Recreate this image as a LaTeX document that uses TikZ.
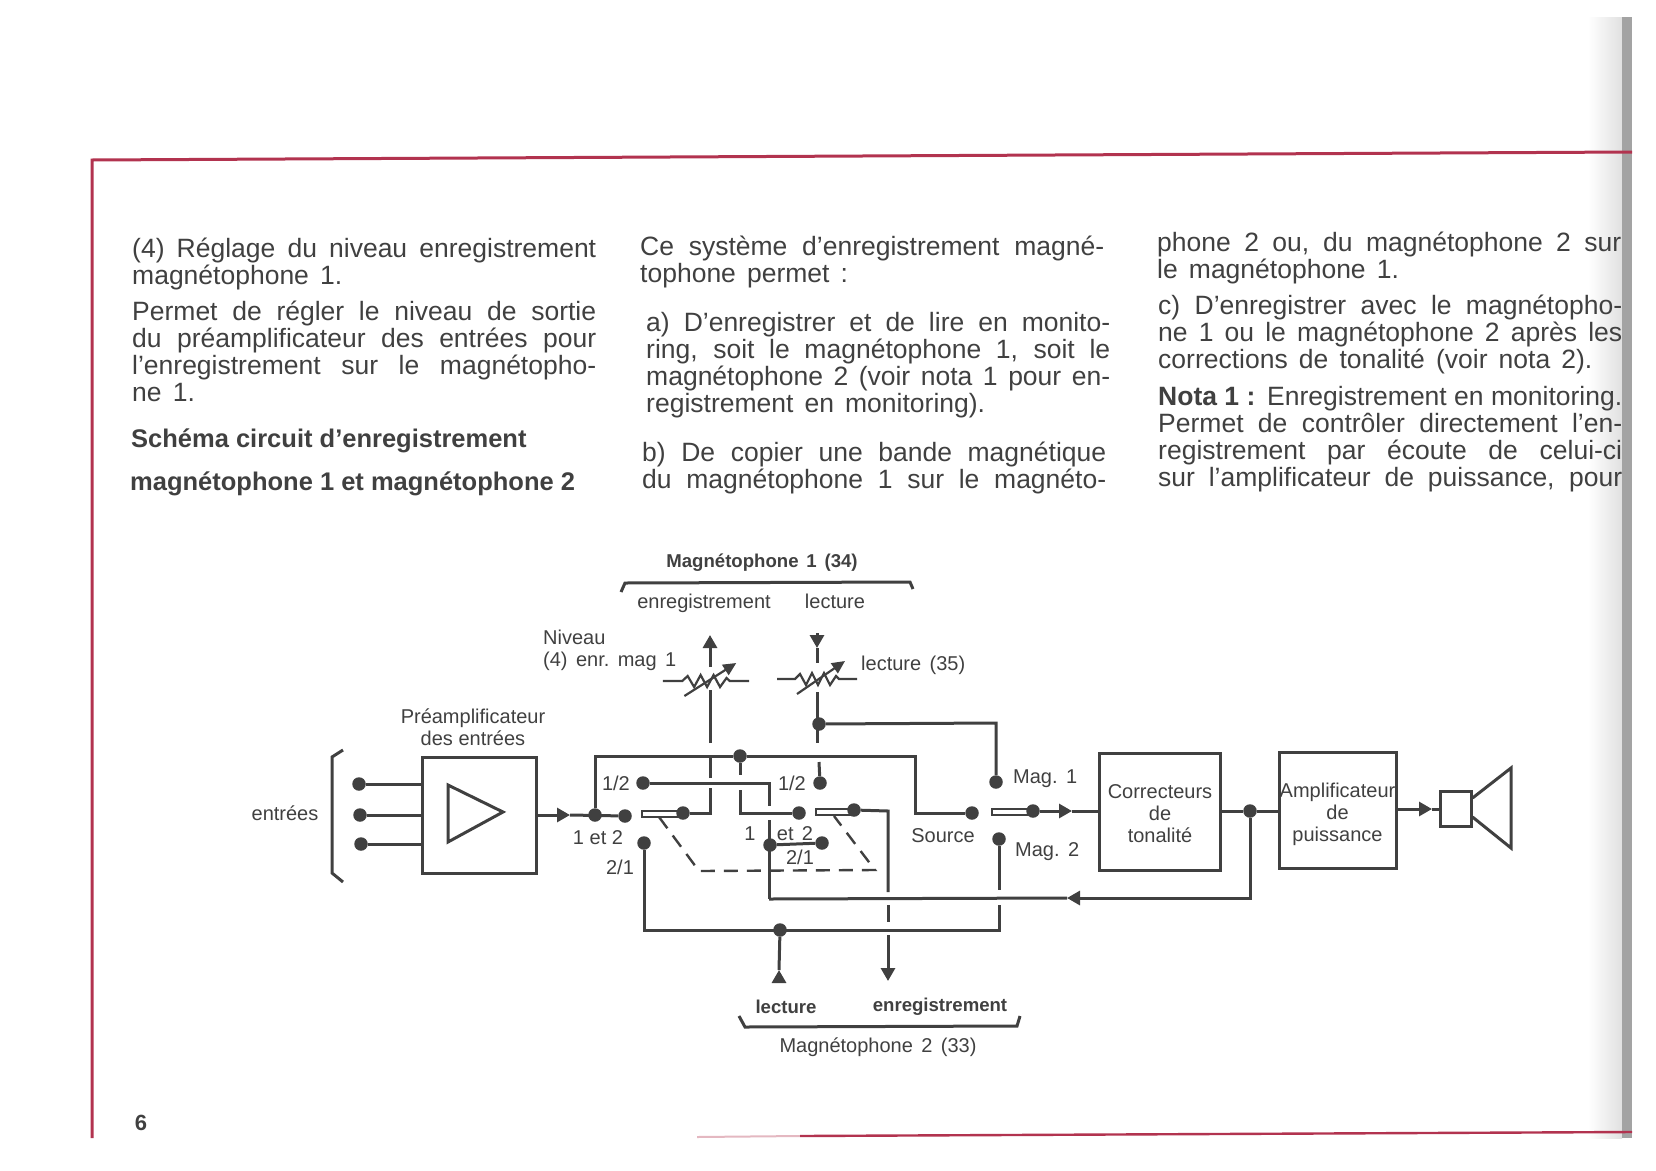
\documentclass[tikz,border=0pt]{standalone}
\usepackage{fontspec}
\setmainfont{Liberation Sans}
\usepackage{xcolor}
\usetikzlibrary{arrows.meta,positioning}
\definecolor{trait}{HTML}{404040}
\definecolor{rouge}{HTML}{B2334F}
\newcommand{\blanc}{\hspace{.42em}}

\begin{document}
\begin{tikzpicture}[
    x=1pt, y=-1pt,
    fil/.style={draw=trait, line width=3pt, line join=miter},
    fleche/.style={draw=trait, line width=3pt, -{Triangle[length=13pt,width=14pt]}},
    tirets/.style={draw=trait, line width=2.4pt, dash pattern=on 14pt off 9pt},
    bloc/.style={rectangle, draw=trait, line width=3pt, inner sep=0pt, align=center, text=trait, font=\fontsize{20}{22}\selectfont},
    borne/.style={circle, fill=trait, inner sep=0pt, minimum size=13.5pt},
    lame/.style={rectangle, draw=trait, fill=white, line width=2pt, inner sep=0pt, minimum height=6pt},
    etiq/.style={inner sep=0pt, align=center, text=trait, font=\fontsize{20}{22}\selectfont},
    gras/.style={inner sep=0pt, align=center, text=trait, font=\fontsize{18.6}{22}\selectfont\bfseries},
    para/.style={anchor=north west, inner sep=0pt, text width=464pt, align=justify, text=trait, font=\fontsize{26.5}{27}\selectfont,
        execute at begin node={\spaceskip=.42em plus 1em minus .16em\tolerance=9999}},
    titre/.style={anchor=west, inner sep=0pt, text=trait, font=\fontsize{25.5}{27}\selectfont\bfseries},
    pot/.pic={
        \draw[draw=trait, line width=2.2pt] (-40,0) -- (-22,0) -- (-17,-5) -- (-11,6) -- (-5,-6) -- (1,6) -- (7,-6) -- (13,6) -- (19,-3) -- (22,0) -- (40,0);
        \draw[draw=trait, line width=2.2pt, -{Triangle[length=13pt,width=12pt]}] (-20,15) -- (28,-18);
    }
    ]

    % Page : bord de reliure et cadre rouge
    \shade[left color=white, right color=black!12] (1588,17) rectangle (1622,1138);
    \fill[black!36] (1622,17) rectangle (1632,1138);
    \useasboundingbox (0,0) rectangle (1656,1170);
    \draw[draw=rouge, line width=3pt] (1632,152) -- (92,160) -- (92,1138);
    \draw[draw=rouge!35, line width=2pt] (697,1137) -- (800,1136);
    \draw[draw=rouge, line width=2.4pt] (800,1136) -- (1632,1132);

    % Colonne 1
    \node[para] (reglage) at (132,238) {(4) Réglage du niveau enregistrement\linebreak magnétophone 1.};
    \node[para] (permet) at (132,301) {Permet de régler le niveau de sortie\linebreak du préamplificateur des entrées pour\linebreak l'enregistrement sur le magnétopho-\linebreak ne 1.};
    \node[titre] (schema) at (131,441) {Schéma circuit d'enregistrement};
    \node[titre] (schemb) at (130,484) {magnétophone 1 et magnétophone 2};

    % Colonne 2
    \node[para] (systeme) at (640,236) {Ce système d'enregistrement magné-\linebreak tophone permet :};
    \node[para] (casa) at (646,312) {a) D'enregistrer et de lire en monito-\linebreak ring, soit le magnétophone 1, soit le\linebreak magnétophone 2 (voir nota 1 pour en-\linebreak registrement en monitoring).};
    \node[para] (casb) at (642,442) {b) De copier une bande magnétique\linebreak \makebox[464pt][s]{du magnétophone 1 sur le magnéto-}};

    % Colonne 3
    \node[para] (suite) at (1157,232) {phone 2 ou, du magnétophone 2 sur\linebreak le magnétophone 1.};
    \node[para] (casc) at (1158,295) {c) D'enregistrer avec le magnétopho-\linebreak ne 1 ou le magnétophone 2 après les\linebreak corrections de tonalité (voir nota 2).};
    \node[para] (nota) at (1158,386) {\textbf{Nota 1 :} Enregistrement en monitoring.\linebreak Permet de contrôler directement l'en-\linebreak registrement par écoute de celui-ci\linebreak \makebox[464pt][s]{sur l'amplificateur de puissance, pour}};

    % Numero de page
    \node[gras, font=\fontsize{22}{24}\selectfont\bfseries] (page) at (141,1123) {6};

    % Blocs
    \node[bloc, minimum width=114pt, minimum height=116pt] (preamp) at (479,815) {};
    \node[bloc, minimum width=121pt, minimum height=117pt] (correct) at (1160,811.5) {\rule{0pt}{19pt}Correcteurs\\de\\tonalité};
    \node[bloc, minimum width=117pt, minimum height=116pt] (ampli) at (1337.5,810) {\rule{0pt}{24pt}Amplificateur\\de\\puissance};
    \node[bloc, minimum width=31pt, minimum height=35pt] (hp) at (1455.5,808.5) {};

    % Bornes
    \node[borne] (e1) at (359,784) {};
    \node[borne] (e2) at (360,815) {};
    \node[borne] (e3) at (361,844) {};
    \node[borne] (jonc) at (595,815) {};
    \node[borne] (c12) at (625,816) {};
    \node[borne] (a12) at (643,783) {};
    \node[borne] (a21) at (644,843) {};
    \node[lame, minimum width=38pt] (lame1) at (661,814) {};
    \node[borne] (pivot1) at (683,813) {};
    \node[borne] (rail) at (740,756) {};
    \node[borne] (b12) at (820,783) {};
    \node[borne] (c1) at (799,813) {};
    \node[borne] (d1) at (770,845) {};
    \node[borne] (d2) at (822,843) {};
    \node[lame, minimum width=36pt] (lame2) at (834,811.5) {};
    \node[borne] (pivot2) at (854,810) {};
    \node[borne] (lec) at (819,724) {};
    \node[borne] (src) at (972,813) {};
    \node[borne] (mag1) at (996,782) {};
    \node[borne] (mag2) at (999,839) {};
    \node[lame, minimum width=38pt] (lame3) at (1011,812) {};
    \node[borne] (pivot3) at (1033,811) {};
    \node[borne] (sortie) at (1250,811) {};
    \node[borne] (retour) at (780,930) {};

    % Potentiometres
    \pic[xscale=1.08] at (706,681) {pot};
    \pic at (817,679) {pot};

    % Points de passage
    \coordinate (fp) at (570,815);
    \coordinate (coude1) at (915,756);
    \coordinate (h1) at (710,690);
    \coordinate (h2) at (710,743);
    \coordinate (h3) at (710,757);
    \coordinate (h4) at (710,778);
    \coordinate (h5) at (710,788);
    \coordinate (h6) at (710,813);
    \coordinate (p1) at (710,667);
    \coordinate (p2) at (710,635);
    \coordinate (i1) at (740,775);
    \coordinate (i2) at (740,790);
    \coordinate (i3) at (740,813);
    \coordinate (j1) at (769,783);
    \coordinate (j2) at (769,806);
    \coordinate (j3) at (769,820);
    \coordinate (j4) at (769,899);
    \coordinate (fr) at (1067,898);
    \coordinate (k1) at (817,692);
    \coordinate (k2) at (817,743);
    \coordinate (k3) at (819,762);
    \coordinate (q1) at (817,663);
    \coordinate (q2) at (817,648);
    \coordinate (q3) at (817,633);
    \coordinate (coude2) at (996,723);
    \coordinate (l1) at (888,811);
    \coordinate (l2) at (888,892);
    \coordinate (l3) at (888,905);
    \coordinate (l4) at (888,922);
    \coordinate (l5) at (888,935);
    \coordinate (l6) at (888,981);
    \coordinate (m1) at (999,890);
    \coordinate (m2) at (999,905);
    \coordinate (m3) at (999,930);
    \coordinate (m4) at (644,930);
    \coordinate (n1) at (779,982);
    \coordinate (n2) at (779,970);
    \coordinate (fs) at (1072,811);
    \coordinate (fh) at (1432,809);

    % Entrees et preamplificateur
    \draw[fil] (e1) -- (e1 -| preamp.west);
    \draw[fil] (e2) -- (e2 -| preamp.west);
    \draw[fil] (e3) -- (e3 -| preamp.west);
    \draw[fil] (343,750) -- (332,757) -- (332,873) -- (343,882);
    \draw[fil] (448,785) -- (503,812) -- (448,842) -- cycle;
    \draw[fleche] (preamp.east) -- (fp);
    \draw[fil] (fp) -- (c12);
    \draw[fil] (jonc) |- (rail);
    \draw[fil] (rail) -- (coude1) |- (src);

    % Commutateur magnetophone 1
    \draw[fil] (pivot1) -- (h6) -- (h5);
    \draw[fil] (h4) -- (h3);
    \draw[fil] (h2) -- (h1);
    \draw[fleche] (p1) -- (p2);
    \draw[fil] (a12) -- (j1) -- (j2);
    \draw[fil] (j3) -- (j4);
    \draw[fil] (rail) -- (i1);
    \draw[fil] (i2) -- (i3) -- (c1);
    \draw[fil] (d1) -- (d2);

    % Lecture magnetophone 1
    \draw[fil] (k1) -- (k2);
    \draw[fil] (k3) -- (b12);
    \draw[fleche] (q3) -- (q2);
    \draw[fil] (q2) -- (q1);
    \draw[fil] (lec) -- (coude2) -- (mag1);

    % Commutateur magnetophone 2
    \draw[fil] (pivot2) -- (l1) -- (l2);
    \draw[fil] (l3) -- (l4);
    \draw[fleche] (l5) -- (l6);
    \draw[fil] (mag2) -- (m1);
    \draw[fil] (m2) -- (m3) -- (m4) -- (a21);
    \draw[fil] (retour) -- (n2);
    \draw[fleche] (n1) -- (n2);

    % Liaison mecanique des inverseurs
    \draw[tirets] (659,817) -- (699,871) -- (875,870) -- (834,816);

    % Source et sortie
    \draw[fleche] (pivot3) -- (fs);
    \draw[fil] (fs) -- (fs -| correct.west);
    \draw[fil] (sortie -| correct.east) -- (sortie) -- (sortie -| ampli.west);
    \draw[fleche] (sortie) |- (fr);
    \draw[fil] (fr) -- (j4);
    \draw[fleche] (fh -| ampli.east) -- (fh);
    \draw[fil] (fh) -- (fh -| hp.west);
    \draw[fil] (hp.east |- 0,798) -- (1511,768) -- (1511,848) -- (hp.east |- 0,817);

    % Accolades
    \draw[fil] (621,592) -- (625,583) -- (910,582) -- (913,589);
    \draw[fil] (739,1016) -- (745,1027) -- (1017,1026) -- (1020,1016);

    % Etiquettes
    \node[etiq] (lentrees) at (285,813) {entrées};
    \node[etiq, above=10pt of preamp, xshift=-6pt] (lpreamp) {Préamplificateur\\des entrées};
    \node[gras] (lmag1) at (762,563) {Magnétophone\blanc 1\blanc (34)};
    \node[etiq] (lenr1) at (704,603) {enregistrement};
    \node[etiq] (llec1) at (835,601) {lecture};
    \node[etiq, anchor=west] (lniv) at (543,637) {Niveau};
    \node[etiq, anchor=west] (lenrmag) at (543,661) {(4)\blanc enr.\blanc mag\blanc 1};
    \node[etiq, anchor=west] (llec35) at (861,665) {lecture\blanc (35)};
    \node[etiq, left=6pt of a12] (l12a) {1/2};
    \node[etiq, left=7pt of b12] (l12b) {1/2};
    \node[etiq] (l1et2) at (598,838) {1 et 2};
    \node[etiq] (l21a) at (620,867) {2/1};
    \node[etiq] (lun) at (750,834) {1};
    \node[etiq] (let2) at (795,834) {et\blanc 2};
    \node[etiq] (l21b) at (800,857) {2/1};
    \node[etiq] (lsrc) at (943,836) {Source};
    \node[etiq, right=10pt of mag1, yshift=3pt] (lm1) {Mag.\blanc 1};
    \node[etiq, right=9pt of mag2, yshift=-13pt] (lm2) {Mag.\blanc 2};
    \node[gras] (llec2) at (786,1007) {lecture};
    \node[gras] (lenr2) at (940,1007) {enregistrement};
    \node[etiq] (lmag2) at (878,1047) {Magnétophone\blanc 2\blanc (33)};

\end{tikzpicture}
\end{document}
